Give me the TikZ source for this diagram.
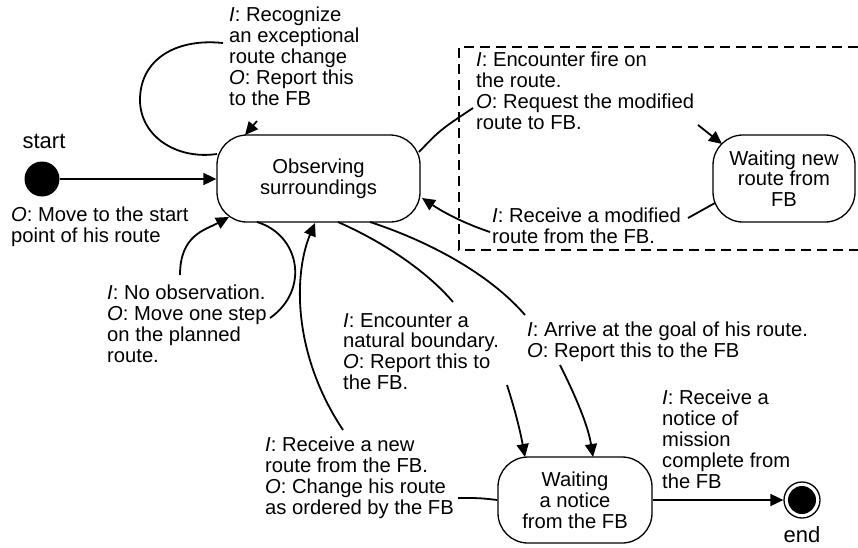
\documentclass[tikz,border=0pt]{standalone}
\usepackage{fontspec}
\setmainfont{Liberation Sans}
\usetikzlibrary{arrows.meta}
\begin{document}
\begin{tikzpicture}[x=1pt,y=-1pt,
  font=\fontsize{20.2}{20.8}\selectfont,
  state/.style={draw, line width=1.3pt, rounded corners=30pt, align=center, inner sep=0pt},
  lbl/.style={anchor=north west, align=left, inner sep=0pt},
  term/.style={anchor=base, inner sep=0pt, font=\fontsize{22}{24}\selectfont},
  conn/.style={line width=1.8pt},
  arr/.style={conn, -{Triangle[length=13pt,width=12pt]}},
  region/.style={line width=1.3pt, dash pattern=on 10pt off 6pt}]
\useasboundingbox (0,0) rectangle (858,547);

% states
\node[state, minimum width=203pt, minimum height=87pt] (obs) at (318.5,178.5) {Observing\\surroundings};
\node[state, minimum width=142pt, minimum height=87pt] (wnew) at (784,178.5) {Waiting new\\route from\\FB};
\node[state, minimum width=154pt, minimum height=86pt] (wnot) at (575,500) {Waiting\\a notice\\from the FB};
\node[circle, fill, inner sep=0pt, minimum size=35pt] (start) at (42,179) {};
\node[circle, draw, line width=1.3pt, inner sep=0pt, minimum size=36pt] (end) at (802,500) {};
\node[circle, fill, inner sep=0pt, minimum size=28pt] (endcore) at (end.center) {};
\node[term] (lstart) at (44,148) {start};
\node[term] (lend) at (802,542) {end};

% dashed region around the re-routing exchange
\draw[region] (858,47) -- (459,47) -- (459,250) -- (858,250);

% transition labels
\node[lbl] (lrec) at (229,7) {\textit{I}: Recognize\\an exceptional\\route change\\\textit{O}: Report this\\to the FB};
\node[lbl] (lfire) at (476,52) {\textit{I}: Encounter fire on\\the route.\\\textit{O}: Request the modified\\route to FB.};
\node[lbl] (lmod) at (492,208) {\textit{I}: Receive a modified\\route from the FB.};
\node[lbl] (lmove) at (11,207) {\textit{O}: Move to the start\\point of his route};
\node[lbl] (lnoobs) at (107,285) {\textit{I}: No observation.\\\textit{O}: Move one step\\on the planned\\route.};
\node[lbl] (lnat) at (343,313) {\textit{I}: Encounter a\\natural boundary.\\\textit{O}: Report this to\\the FB.};
\node[lbl] (lnew) at (265,437) {\textit{I}: Receive a new\\route from the FB.\\\textit{O}: Change his route\\as ordered by the FB};
\node[lbl] (lgoal) at (527,322) {\textit{I}: Arrive at the goal of his route.\\\textit{O}: Report this to the FB};
\node[lbl] (lmis) at (662,390) {\textit{I}: Receive a\\notice of\\mission\\complete from\\the FB};

% connector end points
\coordinate (a0) at (217,154);
\coordinate (a1) at (223,43);
\coordinate (a2) at (257,121);
\coordinate (a3) at (245,135);
\coordinate (b0) at (419,152);
\coordinate (b1) at (473,108);
\coordinate (b2) at (698,125);
\coordinate (b3) at (722,144);
\coordinate (c0) at (715,203);
\coordinate (c1) at (688,218);
\coordinate (c2) at (490,232);
\coordinate (c3) at (422,198);
\coordinate (d0) at (180,275);
\coordinate (d1) at (229,217);
\coordinate (d2) at (257,222);
\coordinate (d3) at (270,318);
\coordinate (e0) at (343,430);
\coordinate (e1) at (315,223);
\coordinate (e2) at (458,498);
\coordinate (f0) at (338,222);
\coordinate (f1) at (453,302);
\coordinate (f2) at (507,385);
\coordinate (f3) at (525,457);
\coordinate (g0) at (370,222);
\coordinate (g1) at (525,315);
\coordinate (g2) at (560,365);
\coordinate (g3) at (593,457);

% transitions
\draw[arr] (start) -- (obs.west |- start);
\draw[conn] (a0) .. controls (175,160) and (140,135) .. (140,100)
                 .. controls (140,60) and (175,38) .. (a1);
\draw[arr] (a2) -- (a3);
\draw[conn] (b0) .. controls (440,130) .. (b1);
\draw[arr] (b2) -- (b3);
\draw[conn] (c0) -- (c1);
\draw[arr] (c2) .. controls (460,222) and (440,210) .. (c3);
\draw[arr] (d0) .. controls (180,235) and (205,230) .. (d1);
\draw[conn] (d2) .. controls (300,235) and (310,290) .. (d3);
\draw[arr] (e0) .. controls (290,350) and (295,270) .. (e1);
\draw[conn] (wnot.west) .. controls (480,498) .. (e2);
\draw[conn] (f0) .. controls (390,245) and (430,275) .. (f1);
\draw[arr] (f2) .. controls (515,410) and (520,430) .. (f3);
\draw[conn] (g0) .. controls (440,245) and (495,280) .. (g1);
\draw[arr] (g2) .. controls (575,395) and (588,425) .. (g3);
\draw[arr] (wnot) -- (end);
\end{tikzpicture}
\end{document}
